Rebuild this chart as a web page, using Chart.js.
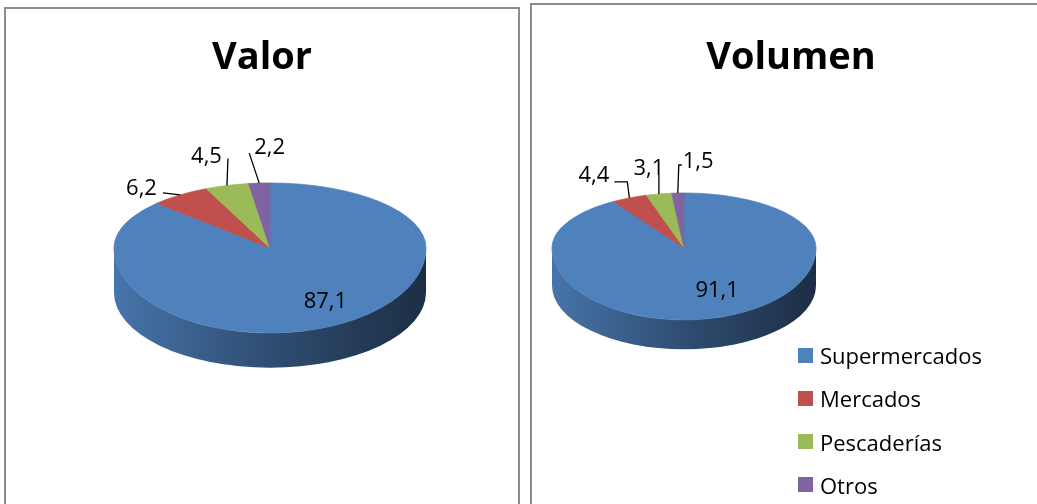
<!DOCTYPE html>
<html>
<head>
<meta charset="utf-8">
<script src="https://cdn.jsdelivr.net/npm/chart.js@4.4.0/dist/chart.umd.min.js"></script>
<style>
  body { margin: 0; width: 1037px; height: 504px; overflow: hidden; position: relative; background: #fff; font-family: "Open Sans", sans-serif; }
  .panel { position: absolute; border: 2px solid #8c8c8c; background: #fff; }
  .panel canvas { position: absolute; left: 0; top: 0; }
  .title { position: absolute; left: 0; width: 100%; text-align: center; font-weight: bold; font-size: 38px; line-height: 38px; color: #000; }
  #legend { position: absolute; left: 798px; top: 340px; }
  .item { display: flex; align-items: center; height: 30px; margin-bottom: 13.3px; font-size: 22px; line-height: 30px; color: #000; }
  .swatch { width: 15px; height: 15px; margin-right: 7px; }
</style>
</head>
<body>
<div class="panel" style="left:4px; top:7px; width:512px; height:520px;">
  <canvas id="valorChart" width="512" height="495"></canvas>
  <div class="title" id="valorTitle" style="top:26px;"></div>
</div>
<div class="panel" style="left:530px; top:3px; width:530px; height:520px;">
  <canvas id="volumenChart" width="512" height="499"></canvas>
  <div class="title" id="volumenTitle" style="top:30px; left:3px; width:512px;"></div>
</div>
<div id="legend"></div>

<script>
var categories = ['Supermercados', 'Mercados', 'Pescaderías', 'Otros'];
var valorShares = [87.1, 6.2, 4.5, 2.2];
var volumenShares = [91.1, 4.4, 3.1, 1.5];
var chartTitles = ['Valor', 'Volumen'];

var sliceColors = ['#4f81bd', '#c0504d', '#9bbb59', '#8064a2'];

// callout layout per slice: first one sits inside the pie (fraction of x / y radius),
// the others get a leader line (steps relative to the rim point)
var valorCallouts = [
    { inside: [0.9, 0.67] },
    { leader: [[-17, -2]], align: 'right', dx: -6, dy: -6 },
    { leader: [[1, -27]], align: 'right', dx: -6, dy: -3 },
    { leader: [[-10, -30]], align: 'left', dx: 5, dy: -7 }
];
var volumenCallouts = [
    { inside: [0.9, 0.6] },
    { leader: [[-2, -16], [-13, 0]], align: 'right', dx: -5, dy: -8 },
    { leader: [[0, -19]], align: 'center', dx: -10, dy: -8 },
    { leader: [[1, -28], [3, 0]], align: 'left', dx: 1, dy: -5 }
];

function shade(hex, f) {
    var n = parseInt(hex.slice(1), 16);
    var r = Math.round(((n >> 16) & 255) * f);
    var g = Math.round(((n >> 8) & 255) * f);
    var b = Math.round((n & 255) * f);
    return 'rgb(' + r + ',' + g + ',' + b + ')';
}

function formatShare(v) {
    return v.toFixed(1).replace('.', ',');
}

// fake perspective: far half of the disc is flattened more than the near half,
// and a shaded wall hangs under the near half
var tiltPlugin = {
    id: 'tilt',
    beforeDatasetsDraw: function (chart, args, opts) {
        var ctx = chart.ctx;
        var arcs = chart.getDatasetMeta(0).data;
        var cx = arcs[0].x, cy = arcs[0].y, r = arcs[0].outerRadius;
        var ryNear = r * opts.near;
        var wall = r * opts.wall, wallMid = r * opts.wallMid;
        var colors = chart.data.datasets[0].backgroundColor;
        arcs.forEach(function (arc, i) {
            var s = Math.max(arc.startAngle, 0);
            var e = Math.min(arc.endAngle, Math.PI);
            if (e <= s) return;
            var grad = ctx.createLinearGradient(cx - r, 0, cx + r, 0);
            grad.addColorStop(0, shade(colors[i], 0.9));
            grad.addColorStop(0.5, shade(colors[i], 0.6));
            grad.addColorStop(1, shade(colors[i], 0.36));
            ctx.beginPath();
            ctx.ellipse(cx, cy, r, ryNear, 0, s, e, false);
            ctx.ellipse(cx, cy + wall, r, ryNear + wallMid - wall, 0, e, s, true);
            ctx.closePath();
            ctx.fillStyle = grad;
            ctx.fill();
        });
        // far half, drawn by Chart.js itself
        ctx.save();
        ctx.beginPath();
        ctx.rect(0, 0, chart.width, cy + 0.5);
        ctx.clip();
        ctx.translate(0, cy);
        ctx.scale(1, opts.far);
        ctx.translate(0, -cy);
    },
    afterDatasetsDraw: function (chart, args, opts) {
        var ctx = chart.ctx;
        ctx.restore();
        var arcs = chart.getDatasetMeta(0).data;
        var cy = arcs[0].y;
        // near half
        ctx.save();
        ctx.beginPath();
        ctx.rect(0, cy - 0.5, chart.width, chart.height);
        ctx.clip();
        ctx.translate(0, cy);
        ctx.scale(1, opts.near);
        ctx.translate(0, -cy);
        arcs.forEach(function (arc) { arc.draw(ctx); });
        ctx.restore();

        var values = chart.data.datasets[0].data;
        var callouts = opts.callouts;
        ctx.save();
        ctx.font = '22px "Open Sans"';
        ctx.fillStyle = '#000';
        ctx.strokeStyle = '#000';
        ctx.lineWidth = 1.3;
        ctx.textBaseline = 'middle';
        arcs.forEach(function (arc, i) {
            var c = callouts[i];
            var mid = (arc.startAngle + arc.endAngle) / 2;
            var r = arc.outerRadius;
            var ry = r * (Math.sin(mid) < 0 ? opts.far : opts.near);
            var label = formatShare(values[i]);
            if (c.inside) {
                ctx.textAlign = 'center';
                ctx.fillText(label, arc.x + Math.cos(mid) * r * c.inside[0], arc.y + Math.sin(mid) * ry * c.inside[1] + 1.5);
                return;
            }
            var x = arc.x + Math.cos(mid) * r;
            var y = arc.y + Math.sin(mid) * ry;
            ctx.beginPath();
            ctx.moveTo(x, y);
            c.leader.forEach(function (step) {
                x += step[0];
                y += step[1];
                ctx.lineTo(x, y);
            });
            ctx.stroke();
            ctx.textAlign = c.align;
            ctx.fillText(label, x + c.dx, y + c.dy + 1.5);
        });
        ctx.restore();
    }
};

function makePie(id, shares, radius, padding, callouts) {
    return new Chart(document.getElementById(id), {
        type: 'pie',
        data: {
            labels: categories,
            datasets: [{
                data: shares,
                backgroundColor: sliceColors,
                borderColor: sliceColors,
                borderWidth: 1,
                clip: false
            }]
        },
        options: {
            responsive: false,
            animation: false,
            events: [],
            radius: radius,
            layout: { padding: padding },
            plugins: {
                legend: { display: false },
                tooltip: { enabled: false },
                tilt: { far: 0.417, near: 0.545, wall: 0.285, wallMid: 0.222, callouts: callouts }
            }
        },
        plugins: [tiltPlugin]
    });
}

document.getElementById('valorTitle').textContent = chartTitles[0];
document.getElementById('volumenTitle').textContent = chartTitles[1];

makePie('valorChart', valorShares, 156, { left: 16, right: 0, top: 80, bottom: 97 }, valorCallouts);
makePie('volumenChart', volumenShares, 132, { left: 0, right: 208, top: 60, bottom: 73 }, volumenCallouts);

var legend = document.getElementById('legend');
categories.forEach(function (name, i) {
    var row = document.createElement('div');
    row.className = 'item';
    var box = document.createElement('span');
    box.className = 'swatch';
    box.style.background = sliceColors[i];
    row.appendChild(box);
    row.appendChild(document.createTextNode(name));
    legend.appendChild(row);
});
</script>
</body>
</html>
